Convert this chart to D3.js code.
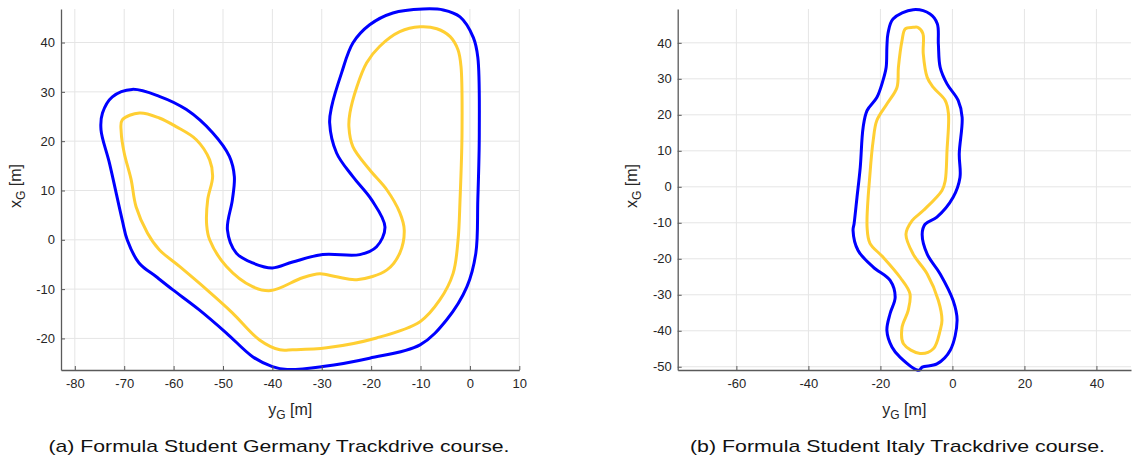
<!DOCTYPE html>
<html lang="en">

<head>
  <meta charset="UTF-8">
  <title>Trackdrive courses</title>
  <script src="https://d3js.org/d3.v7.min.js"></script>
  <style>
    body { margin: 0; background: #fff; }
    svg { display: block; font-family: "Liberation Sans", Arial, Helvetica, sans-serif; }
    .grid line { stroke: #e5e5e5; stroke-width: 1; }
    .axis path, .axis line { stroke: #5a5a5a; }
    .axis text { fill: #262626; font-size: 13px; }
    .lbl { fill: #262626; font-size: 16px; }
    .cap { fill: #111; font-size: 17px; }
  </style>
</head>

<body>
  <div id="chart"></div>

  <script>
    // points are [y_G, x_G] in metres
    var fsgOuter = [
      [-68.4, 30.5], [-62.9, 29.1], [-57.4, 26.4], [-52.1, 21.7], [-48.7, 16.9], [-47.7, 12.8],
      [-48.1, 8.1], [-49.1, 2.0], [-47.3, -2.7], [-44.0, -4.7], [-40.0, -5.7], [-35.9, -4.5],
      [-29.8, -3.0], [-22.3, -3.0], [-18.9, -1.4], [-17.2, 2.6], [-19.9, 8.1], [-23.7, 12.8],
      [-27.0, 17.6], [-28.4, 23.7], [-28.0, 27.0], [-26.0, 33.8], [-23.7, 39.9], [-20.3, 43.6],
      [-15.6, 46.0], [-9.5, 46.8], [-5.4, 46.6], [-2.0, 45.2], [0.7, 41.0], [1.6, 37.0],
      [1.9, 21.7], [1.6, 8.1], [1.2, -2.7], [-0.6, -9.5], [-4.7, -16.2], [-10.1, -21.3],
      [-20.3, -24.0], [-29.8, -25.7], [-37.0, -26.3], [-40.0, -25.7], [-44.0, -23.7],
      [-49.3, -18.9], [-54.8, -14.2], [-60.2, -10.1], [-63.5, -7.5], [-67.0, -4.7],
      [-69.4, 0.0], [-70.4, 4.0], [-73.0, 15.6], [-74.7, 22.3], [-74.4, 25.7], [-72.4, 29.0]
    ];
    var fsgInner = [
      [-66.9, 25.7], [-62.9, 24.7], [-59.4, 22.9], [-55.4, 20.3], [-52.7, 16.2], [-52.1, 12.8],
      [-53.1, 8.1], [-53.3, 3.0], [-52.7, 0.0], [-49.3, -5.4], [-44.0, -9.5], [-40.3, -10.3],
      [-33.9, -7.7], [-30.4, -6.9], [-27.0, -7.5], [-22.9, -8.1], [-16.8, -6.1], [-14.2, -2.7],
      [-13.3, 2.0], [-14.2, 5.5], [-16.8, 10.1], [-20.3, 14.2], [-23.7, 18.9], [-24.5, 22.9],
      [-24.3, 25.7], [-22.9, 31.0], [-20.9, 35.9], [-18.3, 39.2], [-14.2, 42.2], [-10.1, 43.2],
      [-6.7, 42.8], [-4.0, 41.2], [-2.4, 38.5], [-1.8, 35.1], [-1.6, 21.7], [-2.0, 8.1],
      [-2.4, 0.0], [-3.4, -6.8], [-6.1, -12.2], [-10.1, -16.6], [-18.9, -19.9], [-29.0, -21.9],
      [-35.9, -22.3], [-38.5, -22.3], [-42.6, -20.3], [-48.1, -14.8], [-53.3, -10.1],
      [-58.8, -5.4], [-62.9, -2.0], [-65.3, 1.4], [-67.6, 6.7], [-68.6, 12.2], [-70.0, 17.6],
      [-70.6, 21.7], [-70.4, 24.3]
    ];
    var fsiOuter = [
      [-10.9, 49.2], [-6.2, 48.0], [-4.2, 45.3], [-3.9, 39.6], [-3.4, 33.2], [-1.5, 28.6],
      [1.6, 24.0], [2.7, 19.3], [1.9, 9.2], [2.1, 2.6], [0.2, -2.9], [-4.3, -8.4], [-7.6, -10.4],
      [-8.4, -13.2], [-7.0, -18.7], [-3.4, -24.2], [0.2, -31.6], [1.3, -37.1], [-0.6, -45.4],
      [-4.3, -49.2], [-8.4, -50.1], [-9.3, -51.0], [-14.5, -47.4], [-16.8, -44.5],
      [-18.2, -39.9], [-17.3, -35.2], [-15.9, -30.7], [-17.3, -26.0], [-22.0, -22.3],
      [-26.2, -17.7], [-27.6, -12.1], [-27.3, -10.2], [-26.5, -2.9], [-25.6, 5.4], [-24.8, 16.5],
      [-23.7, 21.2], [-21.0, 24.8], [-19.3, 29.5], [-18.4, 33.2], [-18.2, 38.8], [-17.9, 42.6],
      [-16.5, 46.6]
    ];
    var fsiInner = [
      [-10.9, 44.3], [-9.6, 44.3], [-8.2, 42.6], [-8.1, 37.0], [-7.0, 30.4], [-5.3, 27.6],
      [-2.0, 24.0], [-1.1, 20.3], [-1.5, 10.1], [-2.0, 1.7], [-2.9, -1.0], [-8.1, -6.6],
      [-11.2, -9.4], [-12.9, -13.2], [-10.9, -18.7], [-7.0, -24.2], [-3.9, -31.6], [-2.9, -37.1],
      [-3.4, -39.9], [-5.3, -45.0], [-9.0, -46.3], [-13.6, -43.6], [-14.0, -39.1], [-12.3, -34.4],
      [-11.8, -29.7], [-14.5, -25.2], [-19.3, -19.5], [-22.9, -15.7], [-23.7, -11.2],
      [-22.9, 3.6], [-22.0, 12.9], [-21.0, 18.4], [-18.2, 23.0], [-15.4, 27.6], [-15.0, 33.2],
      [-14.0, 40.6], [-13.1, 43.9]
    ];

    var fsgXTicks = [-80, -70, -60, -50, -40, -30, -20, -10, 0, 10];
    var fsgYTicks = [-20, -10, 0, 10, 20, 30, 40];
    var fsiXTicks = [-60, -40, -20, 0, 20, 40];
    var fsiYTicks = [-50, -40, -30, -20, -10, 0, 10, 20, 30, 40];

    var captions = ["(a)  Formula Student Germany Trackdrive course.",
                    "(b)  Formula Student Italy Trackdrive course."];

    var W = 1132, H = 459;
    var svg = d3.select("#chart").append("svg").attr("width", W).attr("height", H);

    var panels = [
      { left: 61, right: 519.3, top: 9, bottom: 370, xd: [-82.8, 10], yd: [-26.4, 46.8],
        xt: fsgXTicks, yt: fsgYTicks, tracks: [fsgOuter, fsgInner], ylx: 21,
        cap: captions[0], capx: 279, capw: 461 },
      { left: 677.7, right: 1131, top: 9, bottom: 370, xd: [-76.3, 49.6], yd: [-50.9, 49.4],
        xt: fsiXTicks, yt: fsiYTicks, tracks: [fsiOuter, fsiInner], ylx: 637,
        cap: captions[1], capx: 897.5, capw: 415 }
    ];
    var colors = ["#0000ff", "#ffcf33"];

    panels.forEach(function (p) {
      var x = d3.scaleLinear().domain(p.xd).range([p.left, p.right]);
      var y = d3.scaleLinear().domain(p.yd).range([p.bottom, p.top]);
      var g = svg.append("g");

      // grid
      var grid = g.append("g").attr("class", "grid");
      grid.selectAll(".gx").data(p.xt).enter().append("line")
        .attr("x1", d => x(d)).attr("x2", d => x(d)).attr("y1", p.top).attr("y2", p.bottom);
      grid.selectAll(".gy").data(p.yt).enter().append("line")
        .attr("y1", d => y(d)).attr("y2", d => y(d)).attr("x1", p.left).attr("x2", p.right);

      // tracks
      var line = d3.line().x(d => x(d[0])).y(d => y(d[1])).curve(d3.curveCatmullRomClosed.alpha(0.5));
      p.tracks.forEach(function (t, i) {
        g.append("path").attr("d", line(t)).attr("fill", "none")
          .attr("stroke", colors[i]).attr("stroke-width", 3).attr("stroke-linejoin", "round");
      });

      // axes
      g.append("g").attr("class", "axis").attr("transform", "translate(0," + p.bottom + ")")
        .call(d3.axisBottom(x).tickValues(p.xt).tickSizeInner(-4).tickSizeOuter(0).tickPadding(9))
        .call(a => a.select(".domain").attr("stroke-width", 1.3));
      g.append("g").attr("class", "axis").attr("transform", "translate(" + p.left + ",0)")
        .call(d3.axisLeft(y).tickValues(p.yt).tickSizeInner(-4).tickSizeOuter(0).tickPadding(6))
        .call(a => a.select(".domain").attr("stroke-width", 1.3));
      svg.selectAll(".axis text").attr("font-family", null).attr("font-size", null);
      svg.selectAll(".axis .tick text").text(d => d < 0 ? "-" + Math.abs(d) : d);

      // labels
      var xl = g.append("text").attr("class", "lbl").attr("text-anchor", "middle")
        .attr("x", (p.left + p.right) / 2).attr("y", 415);
      xl.append("tspan").text("y");
      xl.append("tspan").attr("font-size", "12px").attr("dy", 4).text("G");
      xl.append("tspan").attr("dy", -4).text(" [m]");

      var yl = g.append("text").attr("class", "lbl").attr("text-anchor", "middle")
        .attr("transform", "translate(" + p.ylx + ",186) rotate(-90)");
      yl.append("tspan").text("x");
      yl.append("tspan").attr("font-size", "12px").attr("dy", 4).text("G");
      yl.append("tspan").attr("dy", -4).text(" [m]");

      g.append("text").attr("class", "cap").attr("text-anchor", "middle")
        .attr("x", p.capx).attr("y", 451.5)
        .attr("textLength", p.capw).attr("lengthAdjust", "spacingAndGlyphs")
        .text(p.cap);
    });
  </script>

</body>

</html>
